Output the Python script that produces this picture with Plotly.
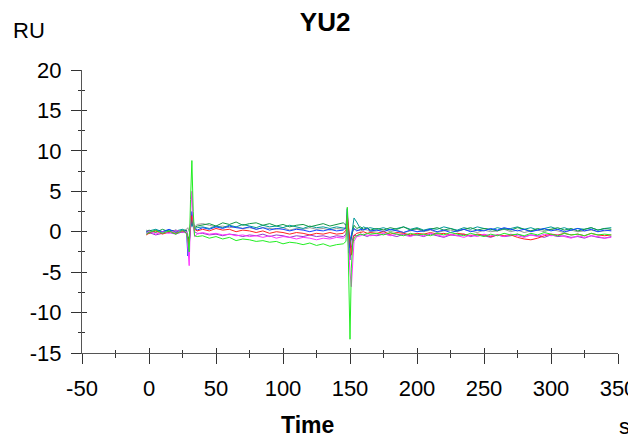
import plotly.graph_objects as go

# time axis (s), split into segments around the two injection spikes
t_pre = [-2, 0, 5, 10, 15, 20, 25]
t_spike1 = [28, 29, 30, 31, 32, 33, 34, 36]
t_mid = [40, 45, 50, 55, 60, 65, 70, 75, 80, 85, 90, 95, 100, 105, 110, 115, 120, 125, 130, 135, 140, 145]
t_spike2 = [147, 148, 149, 150, 151, 152, 153, 155, 158, 160, 163, 165]
t_post = [170, 175, 180, 185, 190, 195, 200, 205, 210, 215, 220, 225, 230, 235, 240, 245, 250, 255,
          260, 265, 270, 275, 280, 285, 290, 295, 300, 305, 310, 315, 320, 325, 330, 335, 340, 345]
time = t_pre + t_spike1 + t_mid + t_spike2 + t_post

# response (RU) per curve
lime = ([-0.3, -0.1, 0.2, -0.2, 0.1, -0.3, 0.2]
        + [-0.2, -1.0, -2.5, 4.0, 8.8, 2.5, -0.5, -0.6]
        + [-0.5, -0.8, -0.6, -0.9, -0.7, -1.1, -0.9, -1.0, -1.2, -1.1, -1.3, -1.2, -1.5, -1.3, -1.4, -1.6, -1.4, -1.7, -1.5, -1.8, -1.6, -1.5]
        + [-1.2, 3.0, -4.0, -13.3, -4.5, -1.5, -0.8, -0.5, -0.3, -0.4, -0.2, -0.3]
        + [-0.2, -0.4, -0.1, -0.3, -0.5, -0.2, -0.4, -0.3, -0.5, -0.2, -0.4, -0.1, -0.3, -0.5, -0.2, -0.4, -0.6, -0.3,
           -0.5, -0.2, -0.4, -0.3, -0.5, -0.2, -0.4, -0.1, -0.3, -0.5, -0.2, -0.4, -0.3, -0.5, -0.2, -0.4, -0.3, -0.4])
magenta = ([-0.2, 0.1, -0.3, 0.0, -0.2, 0.2, -0.1]
           + [0.0, -2.0, -4.2, 2.0, 5.0, 1.2, -0.6, -0.3]
           + [-0.1, -0.3, -0.2, -0.4, -0.3, -0.5, -0.4, -0.6, -0.5, -0.7, -0.5, -0.8, -0.6, -0.7, -0.9, -0.7, -0.8, -1.0, -0.8, -0.9, -0.7, -0.8]
           + [-0.5, 0.8, -2.5, -5.0, -6.8, -3.0, -1.2, -0.6, -0.5, -0.3, -0.4, -0.5]
           + [-0.4, -0.2, -0.5, -0.3, -0.4, -0.6, -0.3, -0.5, -0.2, -0.4, -0.6, -0.3, -0.5, -0.7, -0.4, -0.6, -0.3, -0.5,
              -0.4, -0.6, -0.3, -0.5, -0.7, -0.4, -0.6, -0.3, -0.5, -0.4, -0.6, -0.8, -0.5, -0.7, -0.5, -0.6, -0.8, -0.7])
red = ([-0.4, -0.2, 0.1, -0.3, 0.0, -0.2, 0.1]
       + [-0.1, -0.8, -1.5, 0.8, 2.0, 1.2, 0.3, 0.1]
       + [0.3, 0.1, 0.4, 0.2, 0.3, 0.0, 0.2, 0.1, -0.1, 0.1, -0.2, 0.0, -0.1, -0.3, -0.1, -0.2, -0.4, -0.2, -0.3, -0.1, -0.3, -0.2]
       + [0.2, 2.0, 0.5, -1.5, -2.9, -1.5, -0.5, -0.2, -0.1, 0.0, -0.2, -0.1]
       + [-0.2, 0.0, -0.3, -0.1, -0.2, -0.4, -0.2, -0.3, -0.1, -0.3, -0.2, -0.4, -0.2, -0.3, -0.5, -0.3, -0.4, -0.6,
          -0.4, -0.5, -0.4, -0.7, -0.9, -1.0, -0.8, -0.5, -0.3, -0.4, -0.2, -0.4, -0.3, -0.5, -0.2, -0.4, -0.5, -0.4])
blue = ([0.1, -0.2, 0.2, 0.0, 0.3, -0.1, 0.2]
        + [0.0, -3.0, -1.5, 0.5, 2.5, 1.5, 0.4, 0.2]
        + [0.5, 0.3, 0.6, 0.4, 0.7, 0.5, 0.4, 0.6, 0.3, 0.5, 0.2, 0.4, 0.3, 0.1, 0.3, 0.2, 0.0, 0.2, 0.1, 0.3, 0.1, 0.2]
        + [0.5, 2.8, -2.6, -1.0, -0.5, 0.2, 0.4, 0.1, 0.3, 0.2, 0.4, 0.1]
        + [0.2, 0.0, 0.3, 0.1, -0.1, 0.2, 0.0, 0.1, 0.3, 0.0, 0.2, -0.1, 0.1, 0.3, 0.0, 0.2, 0.1, 0.4,
           0.2, 0.5, 0.3, 0.1, 0.3, 0.0, 0.2, 0.4, 0.1, 0.3, 0.0, 0.2, 0.4, 0.1, 0.3, 0.0, 0.2, 0.1])
green = ([0.0, 0.2, -0.1, 0.3, 0.0, 0.2, -0.1]
         + [0.2, -1.0, -0.5, 1.0, 1.5, 0.8, 0.5, 0.7]
         + [0.8, 1.0, 0.7, 1.1, 0.9, 1.2, 0.8, 1.0, 1.1, 0.8, 1.0, 0.7, 0.9, 0.6, 0.8, 0.9, 0.6, 0.8, 1.0, 0.7, 0.9, 1.1]
         + [0.8, 1.5, 0.0, -1.2, -0.8, 0.3, 0.8, 0.4, 0.6, 0.3, 0.5, 0.2]
         + [0.4, 0.2, 0.5, 0.3, 0.6, 0.2, 0.4, 0.1, 0.3, 0.5, 0.2, 0.4, 0.1, 0.3, 0.5, 0.2, 0.4, 0.3,
            0.1, 0.4, 0.2, 0.5, 0.3, 0.1, 0.4, 0.2, 0.3, 0.5, 0.2, 0.4, 0.1, 0.3, 0.5, 0.2, 0.4, 0.3])
teal = ([-0.1, 0.1, 0.3, 0.0, 0.2, 0.1, 0.3]
        + [0.1, -1.2, -1.8, 0.5, 1.0, 0.6, 0.4, 0.5]
        + [0.6, 0.4, 0.7, 0.5, 0.8, 0.6, 0.9, 0.7, 0.5, 0.8, 0.6, 0.7, 0.5, 0.8, 0.6, 0.4, 0.7, 0.5, 0.6, 0.4, 0.6, 0.5]
        + [0.4, 1.0, -0.8, -2.0, -0.6, 0.5, 1.7, 1.2, 0.3, 0.6, 0.4, 0.5]
        + [0.3, 0.5, 0.2, 0.4, 0.6, 0.3, 0.5, 0.2, 0.4, 0.3, 0.6, 0.4, 0.2, 0.5, 0.3, 0.6, 0.4, 0.2,
           0.5, 0.3, 0.4, 0.6, 0.3, 0.5, 0.2, 0.4, 0.6, 0.3, 0.5, 0.2, 0.4, 0.3, 0.5, 0.2, 0.4, 0.5])
gray = ([0.2, 0.0, 0.1, -0.1, 0.2, 0.0, 0.1]
        + [0.3, 0.5, 0.0, 1.0, 1.8, 0.8, 0.6, 0.9]
        + [1.0, 0.8, 0.6, 0.7, 0.5, 0.6, 0.4, 0.5, 0.3, 0.5, 0.4, 0.3, 0.5, 0.2, 0.4, 0.3, 0.5, 0.3, 0.4, 0.2, 0.4, 0.3]
        + [0.6, 3.0, 0.5, -1.5, -0.8, 0.0, 0.3, 0.2, 0.1, 0.3, 0.2, 0.0]
        + [0.1, 0.3, 0.0, 0.2, -0.1, 0.1, 0.3, 0.0, 0.2, -0.1, 0.1, 0.2, 0.0, 0.3, 0.1, -0.1, 0.2, 0.0,
           0.1, 0.3, 0.0, 0.2, -0.1, 0.1, 0.2, 0.0, 0.3, 0.1, -0.1, 0.2, 0.0, 0.1, 0.2, 0.0, 0.1, 0.2])
purple = ([-0.3, -0.1, -0.4, -0.2, -0.1, -0.3, 0.0]
          + [-0.2, -0.8, -1.0, 0.5, 1.2, 0.6, 0.0, -0.2]
          + [-0.2, -0.4, -0.3, -0.5, -0.3, -0.4, -0.6, -0.4, -0.5, -0.3, -0.6, -0.4, -0.5, -0.7, -0.5, -0.6, -0.4, -0.6, -0.5, -0.7, -0.5, -0.6]
          + [-0.3, 1.0, -1.5, -3.5, -2.0, -0.8, -0.4, -0.5, -0.3, -0.4, -0.6, -0.4]
          + [-0.5, -0.3, -0.4, -0.6, -0.3, -0.5, -0.4, -0.6, -0.3, -0.5, -0.7, -0.4, -0.5, -0.3, -0.6, -0.4, -0.5, -0.7,
             -0.4, -0.6, -0.5, -0.3, -0.6, -0.4, -0.5, -0.7, -0.4, -0.6, -0.5, -0.7, -0.6, -0.8, -0.5, -0.7, -0.8, -0.6])

# tick labels (plain hyphen for negatives, as in the source chart)
x_ticks = [-50, 0, 50, 100, 150, 200, 250, 300, 350]
x_labels = ["-50", "0", "50", "100", "150", "200", "250", "300", "350"]
y_ticks = [-15, -10, -5, 0, 5, 10, 15, 20]
y_labels = ["-15", "-10", "-5", "0", "5", "10", "15", "20"]

curves = [
    ("gray", gray, "#9a9a9a"),
    ("purple", purple, "#9933cc"),
    ("teal", teal, "#009999"),
    ("green", green, "#119944"),
    ("blue", blue, "#1144ff"),
    ("red", red, "#ff2222"),
    ("magenta", magenta, "#ff33ff"),
    ("lime", lime, "#22ee22"),
]

FONT = "Arial, Liberation Sans, sans-serif"

fig = go.Figure()
for name, vals, color in curves:
    assert len(vals) == len(time), name
    fig.add_trace(go.Scatter(x=time, y=vals, mode="lines", name=name,
                             line=dict(color=color, width=1)))

# empty trace so the overlay axes (inner half of the crossing ticks) get drawn
fig.add_trace(go.Scatter(x=[], y=[], xaxis="x2", yaxis="y2", showlegend=False))

axis_common = dict(showline=True, linecolor="#555555", linewidth=1, showgrid=False,
                   zeroline=False, tickcolor="#333333", tickwidth=1, automargin=False)

# the page body adds an 8px margin, so the figure is 8px smaller and shifted down/right
fig.update_layout(
    width=628, height=432,
    margin=dict(l=74, r=18, t=62, b=87),
    plot_bgcolor="white", paper_bgcolor="white",
    showlegend=False,
    font=dict(family=FONT, size=22, color="black"),
    title=dict(text="<b>YU2</b>", x=0.505, xanchor="center", y=0.967, yanchor="middle",
               font=dict(family=FONT, size=26, color="black")),
    xaxis=dict(range=[-50, 350], tickmode="array", tickvals=x_ticks, ticktext=x_labels,
               ticks="outside", ticklen=10, ticklabelstandoff=6, ticklabeloverflow="allow",
               minor=dict(dtick=25, tick0=-50, ticks="outside", ticklen=4, tickcolor="#333333"),
               **axis_common),
    yaxis=dict(range=[-15, 20], tickmode="array", tickvals=y_ticks, ticktext=y_labels,
               ticks="outside", ticklen=10, ticklabelstandoff=5, ticklabeloverflow="allow",
               minor=dict(dtick=2.5, tick0=-15, ticks="outside", ticklen=3, tickcolor="#333333"),
               **axis_common),
    xaxis2=dict(range=[-50, 350], overlaying="x", anchor="y", tickmode="array", tickvals=x_ticks,
                ticks="inside", ticklen=5, showticklabels=False,
                minor=dict(dtick=25, tick0=-50, ticks="inside", ticklen=3, tickcolor="#333333"),
                **axis_common),
    yaxis2=dict(range=[-15, 20], overlaying="y", anchor="x", tickmode="array", tickvals=y_ticks,
                ticks="inside", ticklen=5, showticklabels=False,
                minor=dict(dtick=2.5, tick0=-15, ticks="inside", ticklen=3, tickcolor="#333333"),
                **axis_common),
)

fig.add_annotation(text="RU", xref="paper", yref="paper", x=-0.132, y=1.141,
                   xanchor="left", yanchor="middle", showarrow=False, font=dict(size=22))
fig.add_annotation(text="<b>Time</b>", xref="paper", yref="paper", x=0.4216, y=-0.256,
                   xanchor="center", yanchor="middle", showarrow=False, font=dict(size=23))
fig.add_annotation(text="s", xref="paper", yref="paper", x=1.012, y=-0.258,
                   xanchor="center", yanchor="middle", showarrow=False, font=dict(size=22))

fig.write_html("out.html")
